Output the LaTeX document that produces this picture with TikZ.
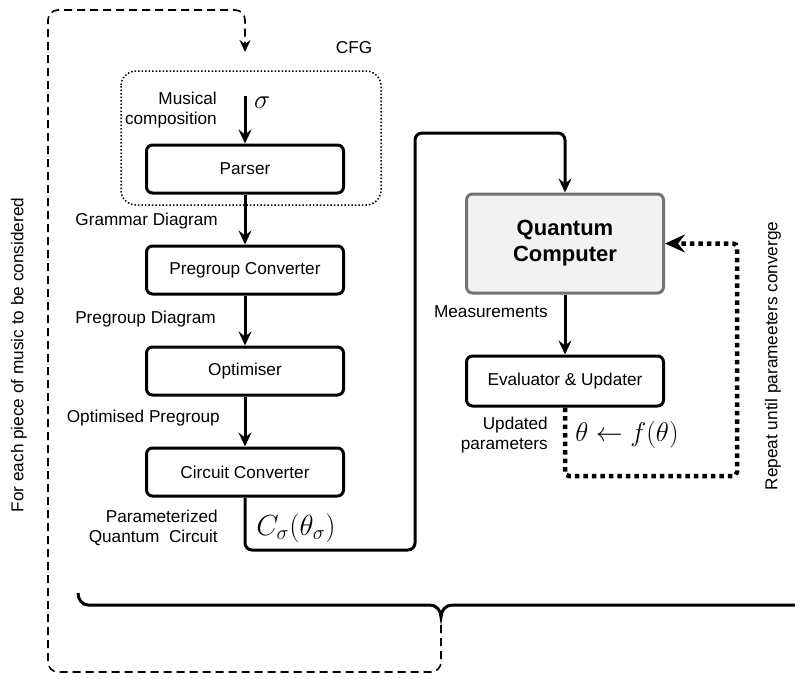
\documentclass[tikz,border=0pt]{standalone}
\usepackage{fix-cm}
\usepackage[no-math]{fontspec}
\setmainfont{Liberation Sans}
\usetikzlibrary{arrows.meta, positioning}

\begin{document}
\begin{tikzpicture}
  [x=1pt, y=-1pt, node distance=50pt,
   font=\fontsize{17.2}{20}\selectfont,
   stage/.style={draw, line width=3pt, rounded corners=6pt,
     minimum width=197pt, minimum height=48pt, inner sep=0pt},
   qpu/.style={stage, draw=black!55, fill=black!5, minimum height=99pt,
     font=\fontsize{22}{26}\selectfont\bfseries, align=center},
   flow/.style={line width=3pt, -{Stealth[length=14pt, width=13pt, inset=5pt]}},
   feedback/.style={line width=4.5pt, dash pattern=on 4.5pt off 4pt,
     rounded corners=4pt, -{Stealth[length=20pt, width=18pt, inset=7pt]}},
   loopback/.style={line width=1.6pt, dash pattern=on 8pt off 5pt,
     rounded corners=10pt, -{Stealth[length=12pt, width=11pt, inset=4pt]}},
   tag/.style={inner sep=0pt, align=right},
   formula/.style={inner sep=0pt, font=\fontsize{27}{30}\selectfont}]

  \useasboundingbox (0,0) rectangle (795,678);

  % pipeline
  \node[stage]      (parser)    at (245,169)        {Parser};
  \node[stage]      (pregroup)  [below=of parser]   {Pregroup Converter};
  \node[stage]      (optimiser) [below=of pregroup] {Optimiser};
  \node[stage]      (circuit)   [below=of optimiser] {Circuit Converter};

  \node[qpu]        (qc)        at (565,243.5)      {Quantum\\Computer};
  \node[stage, minimum height=50pt] (evaluator) [below=60pt of qc] {Evaluator \& Updater};

  % CFG frame
  \draw[line width=1.5pt, dash pattern=on 1.5pt off 2pt, rounded corners=15pt]
    (121,71) rectangle (381,205);
  \node (cfg) at (354,48) {CFG};

  % labels
  \node[tag, anchor=east] (musical)   at (217,110) {Musical\\composition};
  \node[formula, anchor=west] (sigma) at (254,103) {$\sigma$};
  \node[tag, anchor=east] (grammar)   at (218,221) {Grammar Diagram};
  \node[tag, anchor=east] (pgdiagram) at (216,319) {Pregroup Diagram};
  \node[tag, anchor=east] (optpg)     at (220,418) {Optimised Pregroup};
  \node[tag, anchor=east] (pqc)       at (218,528) {Parameterized\\Quantum\ \ Circuit};
  \node[formula, font=\fontsize{29}{32}\selectfont] (circparams) at (296,528)
    {$C_\sigma(\theta_\sigma)$};
  \node[tag, anchor=east] (measure)   at (548,312) {Measurements};
  \node[tag, anchor=east] (updated)   at (548,435) {Updated\\parameters};
  \node[formula] (update)             at (627,435) {$\theta \leftarrow f(\theta)$};
  \node[rotate=90] (foreach) at (19,355)  {For each piece of music to be considered};
  \node[rotate=90] (repeat)  at (773,356) {Repeat until parameeters converge};

  % connectors
  \coordinate (source) at (245,96);
  \draw[flow] (source) -- (parser);
  \draw[flow] (parser) -- (pregroup);
  \draw[flow] (pregroup) -- (optimiser);
  \draw[flow] (optimiser) -- (circuit);
  \draw[flow, rounded corners=7pt] (circuit.south) |- (415,550) |- (565,133) -- (qc.north);
  \draw[flow] (qc) -- (evaluator);
  \draw[feedback] (evaluator.south) |- (737,476) |- (qc.east);

  % brace and outer loop
  \begin{scope}
    \clip (0,0) rectangle (795,678);
    \draw[line width=3pt]
      (78,593) to[out=-90, in=180] (88,605) -- (430,605)
      to[out=0, in=90] (441,617) to[out=90, in=180] (452,605) -- (804,605);
  \end{scope}
  \coordinate (bracetip) at (441,625);
  \coordinate (entry) at (245,52);
  \draw[loopback] (bracetip) |- (48,672) -- (48,10) -| (entry);
\end{tikzpicture}
\end{document}
